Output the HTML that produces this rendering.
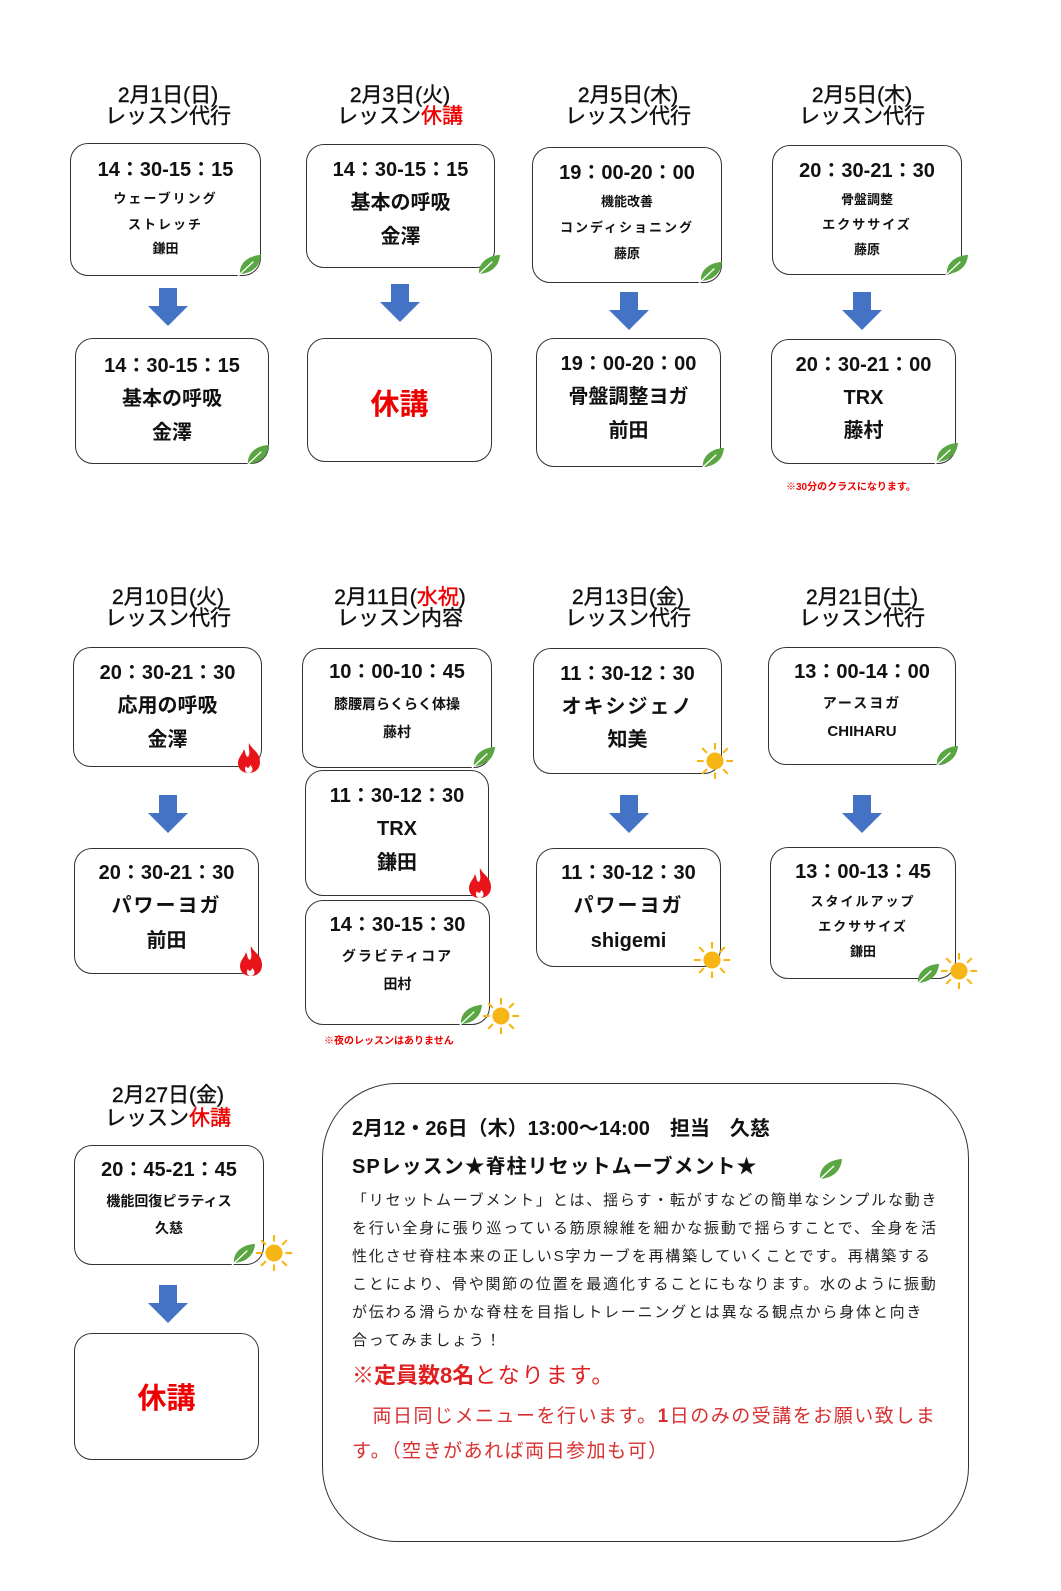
<!DOCTYPE html>
<html><head><meta charset="utf-8">
<style>
html,body{margin:0;padding:0;background:#fff;width:1061px;height:1591px;overflow:hidden;}
#p{position:relative;width:1061px;height:1591px;overflow:hidden;font-family:"Liberation Sans","Noto Sans CJK JP",sans-serif;color:#111;}
.b{position:absolute;border:1.3px solid #333;border-radius:18px;box-sizing:border-box;background:#fff;}
.t{position:absolute;text-align:center;font-weight:bold;white-space:nowrap;line-height:1;}
.h{position:absolute;text-align:center;white-space:nowrap;line-height:1;font-size:21px;-webkit-text-stroke:0.4px #111;}
.s{letter-spacing:2px;}
.r{color:#e00;}
svg.i{position:absolute;overflow:visible;}
.body{position:absolute;left:352px;font-size:15px;letter-spacing:1.8px;white-space:nowrap;line-height:1;color:#222;}
</style></head><body><div id="p">
<svg width="0" height="0" style="position:absolute;left:0;top:0">
<defs>
<symbol id="leaf" viewBox="0 0 26 24"><path d="M3 22 C2 12 10 3 25 2 C24 14 16 21 3 22Z" fill="#5aa642"/><path d="M1 24 L17 9" stroke="#fff" stroke-width="1.4"/></symbol>
<symbol id="fire" viewBox="0 0 26 32"><path d="M13 1 C16 8 24 10 24 20 C24 27 19 31 13 31 C6 31 2 27 2 21 C2 15 7 12 8 7 C10 11 9 14 12 15 C15 11 12 6 13 1Z" fill="#e8141a"/><path d="M13 31 C9 31 8 27 10 24 C11 27 14 26 14 23 C17 25 18 30 13 31Z" fill="#fff"/></symbol>
<symbol id="sun" viewBox="-20 -20 40 40"><circle r="9" fill="#f6b716"/><g stroke="#f6b716" stroke-width="2.2"><line x1="0" y1="-12" x2="0" y2="-19"/><line x1="0" y1="12" x2="0" y2="19"/><line x1="-12" y1="0" x2="-19" y2="0"/><line x1="12" y1="0" x2="19" y2="0"/><line x1="8.5" y1="8.5" x2="13.5" y2="13.5"/><line x1="-8.5" y1="8.5" x2="-13.5" y2="13.5"/><line x1="8.5" y1="-8.5" x2="13.5" y2="-13.5"/><line x1="-8.5" y1="-8.5" x2="-13.5" y2="-13.5"/></g></symbol>
<symbol id="arr" viewBox="0 0 40 38"><path d="M11 0H29V18H40L20 38L0 18H11Z" fill="#4472c4"/></symbol>
</defs></svg>

<!-- Row 1 headers -->
<div class="h" style="left:68px;width:200px;top:85px">2月1日(日)</div>
<div class="h" style="left:68px;width:200px;top:106px">レッスン代行</div>
<div class="h" style="left:300px;width:200px;top:85px">2月3日(火)</div>
<div class="h" style="left:300px;width:200px;top:106px">レッスン<span class="r" style="-webkit-text-stroke:0.4px #e00">休講</span></div>
<div class="h" style="left:528px;width:200px;top:85px">2月5日(木)</div>
<div class="h" style="left:528px;width:200px;top:106px">レッスン代行</div>
<div class="h" style="left:762px;width:200px;top:85px">2月5日(木)</div>
<div class="h" style="left:762px;width:200px;top:106px">レッスン代行</div>

<!-- A -->
<div class="b" style="left:70px;top:143px;width:191px;height:133px"></div>
<div class="t" style="left:70px;width:191px;top:160px;font-size:20px">14：30-15：15</div>
<div class="t s" style="left:70px;width:191px;top:192px;font-size:13px">ウェーブリング</div>
<div class="t s" style="left:70px;width:191px;top:218px;font-size:13px">ストレッチ</div>
<div class="t" style="left:70px;width:191px;top:242px;font-size:13px">鎌田</div>
<svg class="i" style="left:237px;top:253px" width="25" height="23"><use href="#leaf"/></svg>
<svg class="i" style="left:148px;top:288px" width="40" height="38"><use href="#arr"/></svg>
<div class="b" style="left:75px;top:338px;width:194px;height:126px"></div>
<div class="t" style="left:75px;width:194px;top:356px;font-size:20px">14：30-15：15</div>
<div class="t" style="left:75px;width:194px;top:389px;font-size:20px">基本の呼吸</div>
<div class="t" style="left:75px;width:194px;top:423px;font-size:20px">金澤</div>
<svg class="i" style="left:245px;top:443px" width="25" height="23"><use href="#leaf"/></svg>

<!-- B -->
<div class="b" style="left:306px;top:144px;width:189px;height:124px"></div>
<div class="t" style="left:306px;width:189px;top:160px;font-size:20px">14：30-15：15</div>
<div class="t" style="left:306px;width:189px;top:193px;font-size:20px">基本の呼吸</div>
<div class="t" style="left:306px;width:189px;top:227px;font-size:20px">金澤</div>
<svg class="i" style="left:476px;top:253px" width="25" height="23"><use href="#leaf"/></svg>
<svg class="i" style="left:380px;top:284px" width="40" height="38"><use href="#arr"/></svg>
<div class="b" style="left:307px;top:338px;width:185px;height:124px"></div>
<div class="t r" style="left:307px;width:185px;top:391px;font-size:29px">休講</div>

<!-- C -->
<div class="b" style="left:532px;top:147px;width:190px;height:136px"></div>
<div class="t" style="left:532px;width:190px;top:163px;font-size:20px">19：00-20：00</div>
<div class="t" style="left:532px;width:190px;top:195px;font-size:13px">機能改善</div>
<div class="t s" style="left:532px;width:190px;top:221px;font-size:13px">コンディショニング</div>
<div class="t" style="left:532px;width:190px;top:247px;font-size:13px">藤原</div>
<svg class="i" style="left:698px;top:260px" width="25" height="23"><use href="#leaf"/></svg>
<svg class="i" style="left:609px;top:292px" width="40" height="38"><use href="#arr"/></svg>
<div class="b" style="left:536px;top:338px;width:185px;height:129px"></div>
<div class="t" style="left:536px;width:185px;top:354px;font-size:20px">19：00-20：00</div>
<div class="t" style="left:536px;width:185px;top:387px;font-size:20px">骨盤調整ヨガ</div>
<div class="t" style="left:536px;width:185px;top:421px;font-size:20px">前田</div>
<svg class="i" style="left:700px;top:446px" width="25" height="23"><use href="#leaf"/></svg>

<!-- D -->
<div class="b" style="left:772px;top:145px;width:190px;height:130px"></div>
<div class="t" style="left:772px;width:190px;top:161px;font-size:20px">20：30-21：30</div>
<div class="t" style="left:772px;width:190px;top:193px;font-size:13px">骨盤調整</div>
<div class="t s" style="left:772px;width:190px;top:218px;font-size:13px">エクササイズ</div>
<div class="t" style="left:772px;width:190px;top:243px;font-size:13px">藤原</div>
<svg class="i" style="left:944px;top:253px" width="25" height="23"><use href="#leaf"/></svg>
<svg class="i" style="left:842px;top:292px" width="40" height="38"><use href="#arr"/></svg>
<div class="b" style="left:771px;top:339px;width:185px;height:125px"></div>
<div class="t" style="left:771px;width:185px;top:355px;font-size:20px">20：30-21：00</div>
<div class="t" style="left:771px;width:185px;top:388px;font-size:20px">TRX</div>
<div class="t" style="left:771px;width:185px;top:421px;font-size:20px">藤村</div>
<svg class="i" style="left:934px;top:441px" width="25" height="23"><use href="#leaf"/></svg>
<div class="t r" style="left:786px;top:483px;font-size:10px;text-align:left">※30分のクラスになります。</div>

<!-- Row 2 headers -->
<div class="h" style="left:68px;width:200px;top:587px">2月10日(火)</div>
<div class="h" style="left:68px;width:200px;top:608px">レッスン代行</div>
<div class="h" style="left:300px;width:200px;top:587px">2月11日(<span class="r" style="-webkit-text-stroke:0.4px #e00">水祝</span>)</div>
<div class="h" style="left:300px;width:200px;top:608px">レッスン内容</div>
<div class="h" style="left:528px;width:200px;top:587px">2月13日(金)</div>
<div class="h" style="left:528px;width:200px;top:608px">レッスン代行</div>
<div class="h" style="left:762px;width:200px;top:587px">2月21日(土)</div>
<div class="h" style="left:762px;width:200px;top:608px">レッスン代行</div>

<!-- E -->
<div class="b" style="left:73px;top:647px;width:189px;height:120px"></div>
<div class="t" style="left:73px;width:189px;top:663px;font-size:20px">20：30-21：30</div>
<div class="t" style="left:73px;width:189px;top:696px;font-size:20px">応用の呼吸</div>
<div class="t" style="left:73px;width:189px;top:730px;font-size:20px">金澤</div>
<svg class="i" style="left:236px;top:742px" width="26" height="32"><use href="#fire"/></svg>
<svg class="i" style="left:148px;top:795px" width="40" height="38"><use href="#arr"/></svg>
<div class="b" style="left:74px;top:848px;width:185px;height:126px"></div>
<div class="t" style="left:74px;width:185px;top:863px;font-size:20px">20：30-21：30</div>
<div class="t s" style="left:74px;width:185px;top:896px;font-size:20px">パワーヨガ</div>
<div class="t" style="left:74px;width:185px;top:931px;font-size:20px">前田</div>
<svg class="i" style="left:238px;top:945px" width="26" height="32"><use href="#fire"/></svg>

<!-- F -->
<div class="b" style="left:302px;top:648px;width:190px;height:120px"></div>
<div class="t" style="left:302px;width:190px;top:662px;font-size:20px">10：00-10：45</div>
<div class="t" style="left:302px;width:190px;top:697px;font-size:14px">膝腰肩らくらく体操</div>
<div class="t" style="left:302px;width:190px;top:725px;font-size:14px">藤村</div>
<svg class="i" style="left:471px;top:745px" width="25" height="23"><use href="#leaf"/></svg>
<div class="b" style="left:305px;top:770px;width:184px;height:126px"></div>
<div class="t" style="left:305px;width:184px;top:786px;font-size:20px">11：30-12：30</div>
<div class="t" style="left:305px;width:184px;top:819px;font-size:20px">TRX</div>
<div class="t" style="left:305px;width:184px;top:853px;font-size:20px">鎌田</div>
<svg class="i" style="left:467px;top:867px" width="26" height="32"><use href="#fire"/></svg>
<div class="b" style="left:305px;top:900px;width:185px;height:125px"></div>
<div class="t" style="left:305px;width:185px;top:915px;font-size:20px">14：30-15：30</div>
<div class="t s" style="left:305px;width:185px;top:949px;font-size:14px">グラビティコア</div>
<div class="t" style="left:305px;width:185px;top:977px;font-size:14px">田村</div>
<svg class="i" style="left:458px;top:1003px" width="25" height="23"><use href="#leaf"/></svg>
<svg class="i" style="left:482px;top:997px" width="38" height="38"><use href="#sun"/></svg>
<div class="t r" style="left:324px;top:1037px;font-size:10px;text-align:left">※夜のレッスンはありません</div>

<!-- G -->
<div class="b" style="left:533px;top:648px;width:189px;height:126px"></div>
<div class="t" style="left:533px;width:189px;top:664px;font-size:20px">11：30-12：30</div>
<div class="t s" style="left:533px;width:189px;top:697px;font-size:20px">オキシジェノ</div>
<div class="t" style="left:533px;width:189px;top:730px;font-size:20px">知美</div>
<svg class="i" style="left:696px;top:742px" width="38" height="38"><use href="#sun"/></svg>
<svg class="i" style="left:609px;top:795px" width="40" height="38"><use href="#arr"/></svg>
<div class="b" style="left:536px;top:848px;width:185px;height:119px"></div>
<div class="t" style="left:536px;width:185px;top:863px;font-size:20px">11：30-12：30</div>
<div class="t s" style="left:536px;width:185px;top:896px;font-size:20px">パワーヨガ</div>
<div class="t" style="left:536px;width:185px;top:931px;font-size:20px">shigemi</div>
<svg class="i" style="left:693px;top:941px" width="38" height="38"><use href="#sun"/></svg>

<!-- H -->
<div class="b" style="left:768px;top:647px;width:188px;height:118px"></div>
<div class="t" style="left:768px;width:188px;top:662px;font-size:20px">13：00-14：00</div>
<div class="t s" style="left:768px;width:188px;top:696px;font-size:14px">アースヨガ</div>
<div class="t" style="left:768px;width:188px;top:724px;font-size:15px">CHIHARU</div>
<svg class="i" style="left:934px;top:744px" width="25" height="23"><use href="#leaf"/></svg>
<svg class="i" style="left:842px;top:795px" width="40" height="38"><use href="#arr"/></svg>
<div class="b" style="left:770px;top:847px;width:186px;height:132px"></div>
<div class="t" style="left:770px;width:186px;top:862px;font-size:20px">13：00-13：45</div>
<div class="t s" style="left:770px;width:186px;top:895px;font-size:13px">スタイルアップ</div>
<div class="t s" style="left:770px;width:186px;top:920px;font-size:13px">エクササイズ</div>
<div class="t" style="left:770px;width:186px;top:945px;font-size:13px">鎌田</div>
<svg class="i" style="left:915px;top:962px" width="25" height="23"><use href="#leaf"/></svg>
<svg class="i" style="left:940px;top:952px" width="38" height="38"><use href="#sun"/></svg>

<!-- Row 3 -->
<div class="h" style="left:68px;width:200px;top:1085px">2月27日(金)</div>
<div class="h" style="left:68px;width:200px;top:1108px">レッスン<span class="r" style="-webkit-text-stroke:0.4px #e00">休講</span></div>
<div class="b" style="left:74px;top:1145px;width:190px;height:120px"></div>
<div class="t" style="left:74px;width:190px;top:1160px;font-size:20px">20：45-21：45</div>
<div class="t" style="left:74px;width:190px;top:1194px;font-size:14px">機能回復ピラティス</div>
<div class="t" style="left:74px;width:190px;top:1221px;font-size:14px">久慈</div>
<svg class="i" style="left:231px;top:1242px" width="25" height="23"><use href="#leaf"/></svg>
<svg class="i" style="left:255px;top:1234px" width="38" height="38"><use href="#sun"/></svg>
<svg class="i" style="left:148px;top:1285px" width="40" height="38"><use href="#arr"/></svg>
<div class="b" style="left:74px;top:1333px;width:185px;height:127px"></div>
<div class="t r" style="left:74px;width:185px;top:1385px;font-size:29px">休講</div>

<!-- Big box -->
<div class="b" style="left:322px;top:1083px;width:647px;height:459px;border-radius:75px"></div>
<div class="t" style="left:352px;top:1119px;font-size:20px;text-align:left">2月12・26日（木）13:00～14:00　担当　久慈</div>
<div class="t" style="left:352px;top:1157px;font-size:20px;text-align:left;letter-spacing:1px">SPレッスン★脊柱リセットムーブメント★</div>
<svg class="i" style="left:817px;top:1157px" width="26" height="24"><use href="#leaf"/></svg>
<div class="body" style="top:1193px">「リセットムーブメント」とは、揺らす・転がすなどの簡単なシンプルな動き</div>
<div class="body" style="top:1221px">を行い全身に張り巡っている筋原線維を細かな振動で揺らすことで、全身を活</div>
<div class="body" style="top:1249px">性化させ脊柱本来の正しいS字カーブを再構築していくことです。再構築する</div>
<div class="body" style="top:1277px">ことにより、骨や関節の位置を最適化することにもなります。水のように振動</div>
<div class="body" style="top:1305px">が伝わる滑らかな脊柱を目指しトレーニングとは異なる観点から身体と向き</div>
<div class="body" style="top:1333px">合ってみましょう！</div>
<div class="t r" style="left:352px;top:1365px;font-size:22px;text-align:left;color:#e02020">※定員数8名<span style="font-weight:normal;letter-spacing:2px">となります。</span></div>
<div class="t r" style="left:352px;top:1407px;font-size:19px;text-align:left;font-weight:normal;color:#d83030;letter-spacing:1.5px">　両日同じメニューを行います。<b>1</b>日のみの受講をお願い致しま</div>
<div class="t r" style="left:352px;top:1442px;font-size:19px;text-align:left;font-weight:normal;color:#d83030;letter-spacing:1.5px">す。（空きがあれば両日参加も可）</div>
</div></body></html>
